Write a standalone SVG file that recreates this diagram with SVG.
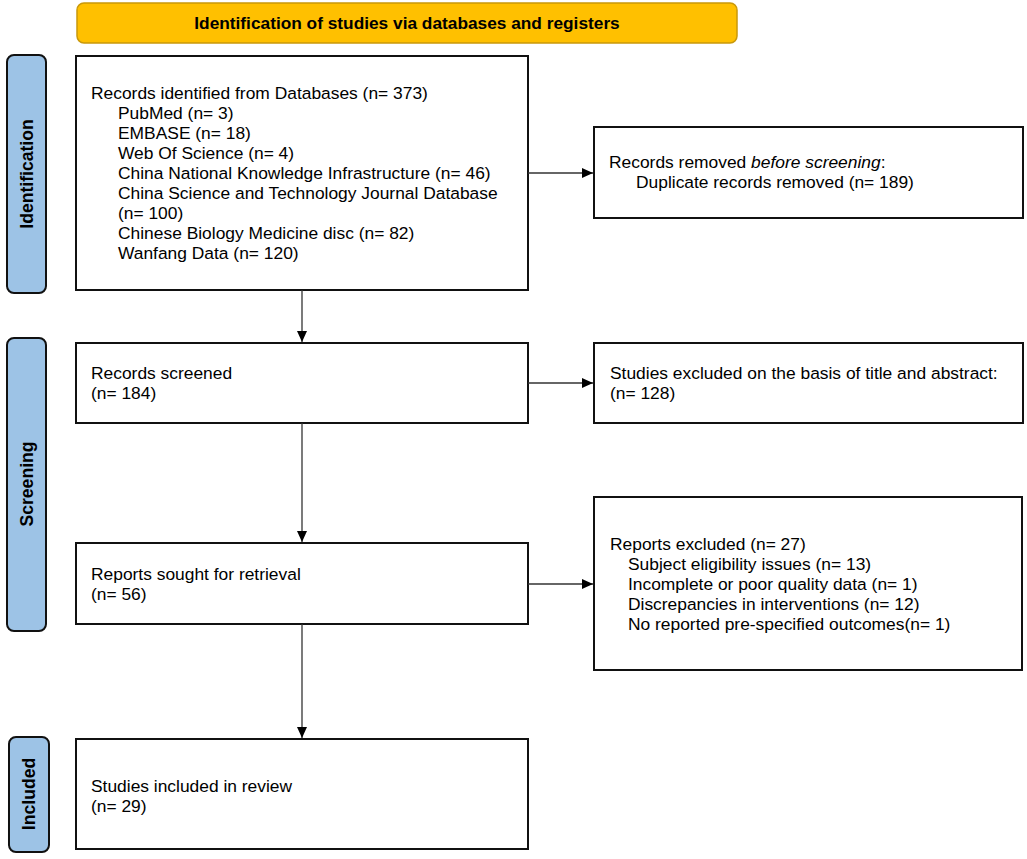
<svg xmlns="http://www.w3.org/2000/svg" width="1027" height="859" viewBox="0 0 1027 859">
<style>
.box{fill:#fff;stroke:#111;stroke-width:2}
.side{fill:#9DC3E6;stroke:#111;stroke-width:2}
.banner{fill:#FFC000;stroke:#C9980A;stroke-width:1.5}
.t{font-family:"Liberation Sans",Arial,sans-serif;font-size:17.4px;fill:#000}
.b{font-family:"Liberation Sans",Arial,sans-serif;font-weight:bold;fill:#000}
.c{stroke:#333;stroke-width:1.3;fill:none}
</style>
<defs>
<marker id="ah" markerWidth="11" markerHeight="10" refX="11" refY="5" orient="auto" markerUnits="userSpaceOnUse">
<path d="M0,0 L11,5 L0,10 Z" fill="#000"/>
</marker>
</defs>
<rect width="1027" height="859" fill="#fff"/>
<g id="banner">
<rect class="banner" x="77" y="3" width="660" height="40" rx="7"/>
<text class="b" x="407" y="29" font-size="17.3" text-anchor="middle">Identification of studies via databases and registers</text>
</g>
<g id="label-identification">
<rect class="side" x="7" y="55" width="39" height="238" rx="7"/>
<text class="b" font-size="17.6" transform="translate(33,174) rotate(-90)" text-anchor="middle">Identification</text>
</g>
<g id="label-screening">
<rect class="side" x="7" y="338" width="39" height="293" rx="7"/>
<text class="b" font-size="17.6" transform="translate(33,484) rotate(-90)" text-anchor="middle">Screening</text>
</g>
<g id="label-included">
<rect class="side" x="9" y="737" width="40" height="115" rx="7"/>
<text class="b" font-size="17.6" transform="translate(35,794) rotate(-90)" text-anchor="middle">Included</text>
</g>
<g id="identified">
<rect class="box" x="76" y="56" width="452" height="234"/>
<text class="t" x="91" y="99">Records identified from Databases (n= 373)</text>
<text class="t" x="118" y="119">PubMed (n= 3)</text>
<text class="t" x="118" y="139">EMBASE (n= 18)</text>
<text class="t" x="118" y="159">Web Of Science (n= 4)</text>
<text class="t" x="118" y="179">China National Knowledge Infrastructure (n= 46)</text>
<text class="t" x="118" y="199">China Science and Technology Journal Database</text>
<text class="t" x="118" y="219">(n= 100)</text>
<text class="t" x="118" y="239">Chinese Biology Medicine disc (n= 82)</text>
<text class="t" x="118" y="259">Wanfang Data (n= 120)</text>
</g>
<g id="removed">
<rect class="box" x="594" y="127" width="429" height="91"/>
<text class="t" x="609" y="168">Records removed <tspan font-style="italic">before screening</tspan>:</text>
<text class="t" x="636" y="188">Duplicate records removed (n= 189)</text>
</g>
<g id="screened">
<rect class="box" x="76" y="343" width="452" height="80"/>
<text class="t" x="91" y="379">Records screened</text>
<text class="t" x="91" y="399">(n= 184)</text>
</g>
<g id="excluded-title">
<rect class="box" x="594" y="343" width="429" height="80"/>
<text class="t" x="610" y="379">Studies excluded on the basis of title and abstract:</text>
<text class="t" x="610" y="399">(n= 128)</text>
</g>
<g id="sought">
<rect class="box" x="76" y="543" width="452" height="81"/>
<text class="t" x="91" y="580">Reports sought for retrieval</text>
<text class="t" x="91" y="600">(n= 56)</text>
</g>
<g id="reports-excluded">
<rect class="box" x="594" y="497" width="428" height="173"/>
<text class="t" x="610" y="550">Reports excluded (n= 27)</text>
<text class="t" x="628" y="570">Subject eligibility issues (n= 13)</text>
<text class="t" x="628" y="590">Incomplete or poor quality data (n= 1)</text>
<text class="t" x="628" y="610">Discrepancies in interventions (n= 12)</text>
<text class="t" x="628" y="630">No reported pre-specified outcomes(n= 1)</text>
</g>
<g id="included">
<rect class="box" x="76" y="739" width="452" height="110"/>
<text class="t" x="91" y="792">Studies included in review</text>
<text class="t" x="91" y="812">(n= 29)</text>
</g>
<g id="connectors">
<line class="c" x1="302" y1="290" x2="302" y2="342" marker-end="url(#ah)"/>
<line class="c" x1="528" y1="173" x2="593" y2="173" marker-end="url(#ah)"/>
<line class="c" x1="302" y1="423" x2="302" y2="542" marker-end="url(#ah)"/>
<line class="c" x1="528" y1="383" x2="593" y2="383" marker-end="url(#ah)"/>
<line class="c" x1="302" y1="624" x2="302" y2="738" marker-end="url(#ah)"/>
<line class="c" x1="528" y1="584" x2="593" y2="584" marker-end="url(#ah)"/>
</g>
</svg>
